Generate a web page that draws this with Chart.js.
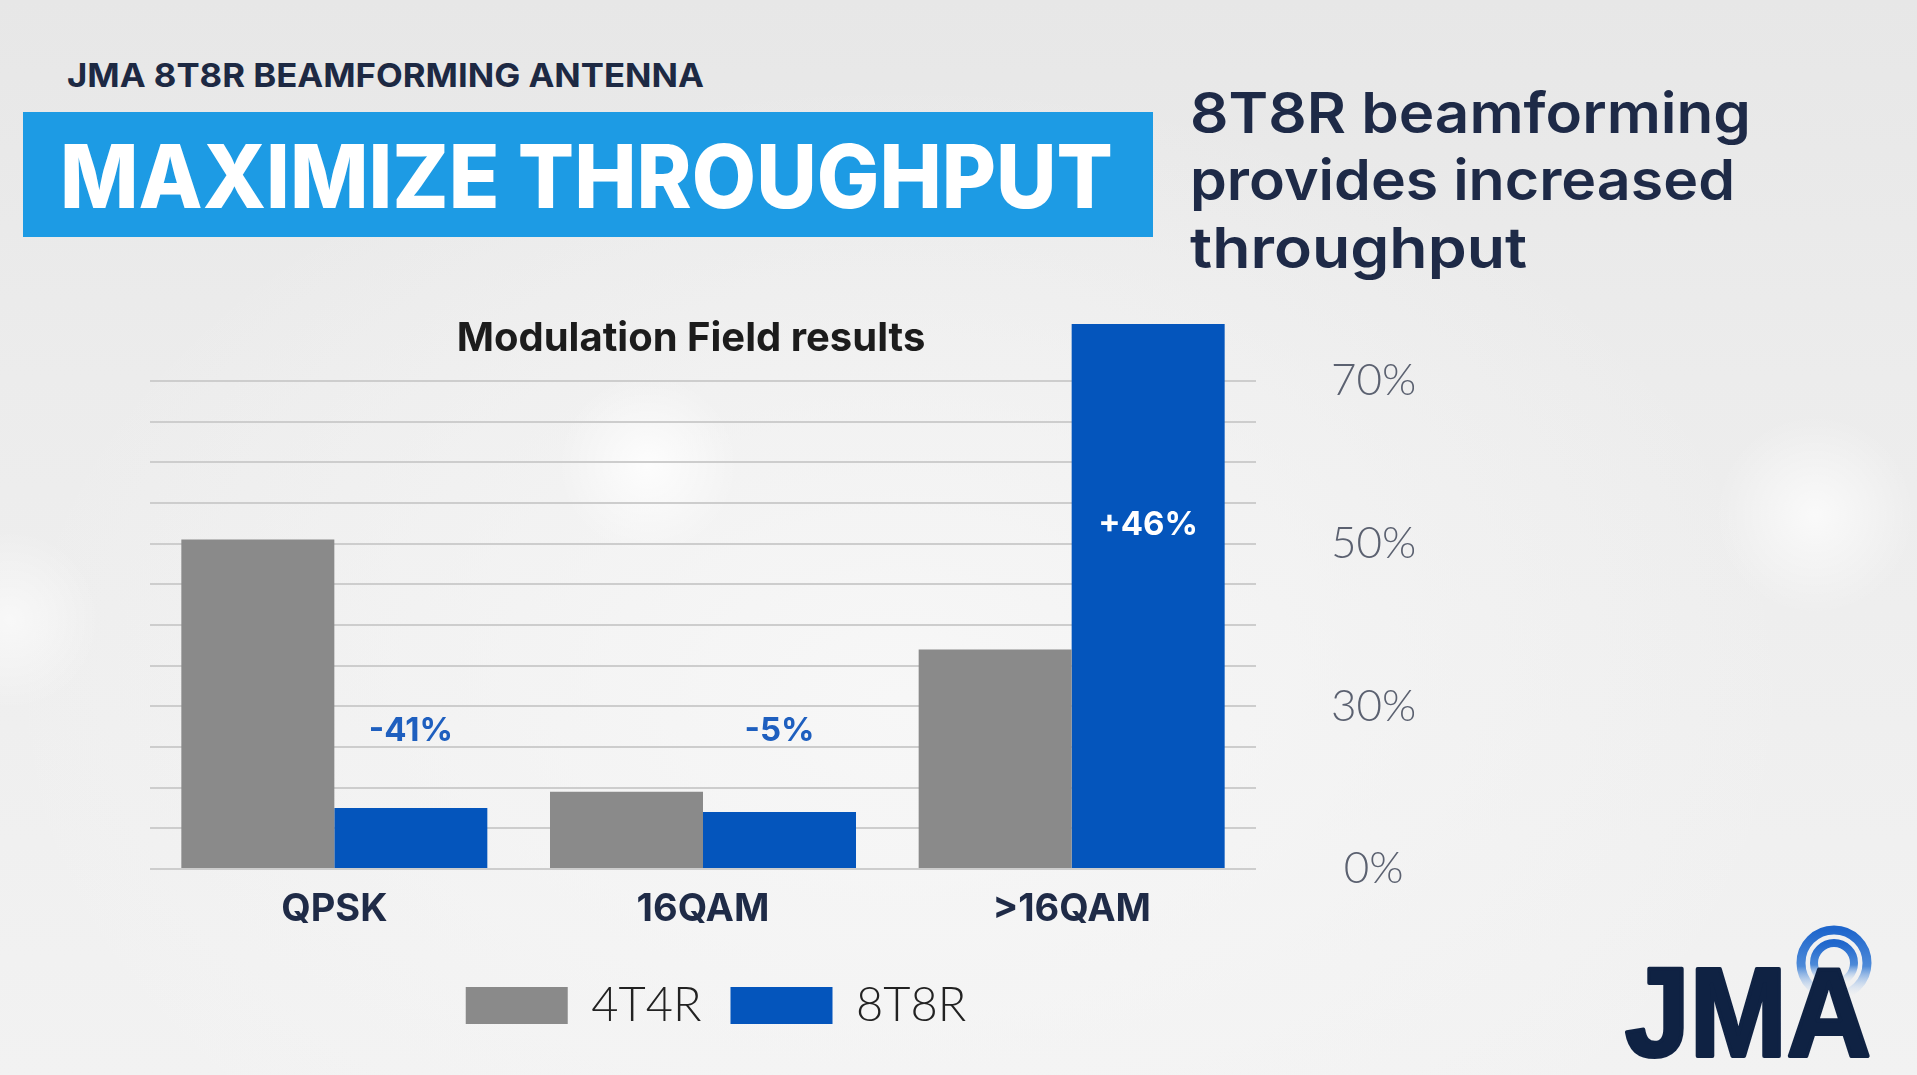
<!DOCTYPE html>
<html>
<head>
<meta charset="utf-8">
<title>Modulation Field results</title>
<script src="https://cdn.jsdelivr.net/npm/chart.js@4.4.0/dist/chart.umd.min.js"></script>
<style>
    html, body { margin: 0; padding: 0; }
    body {
        width: 1917px; height: 1075px; overflow: hidden; position: relative;
        font-family: Inter, "Open Sans", sans-serif;
        background:
            radial-gradient(circle at 648px 465px, rgba(255,255,255,0.85) 0, rgba(255,255,255,0) 90px),
            radial-gradient(circle at 1815px 515px, rgba(255,255,255,0.7) 0, rgba(255,255,255,0) 100px),
            radial-gradient(circle at 10px 620px, rgba(255,255,255,0.6) 0, rgba(255,255,255,0) 90px),
            radial-gradient(ellipse at 900px 700px, #f7f7f7 0, rgba(247,247,247,0) 900px),
            linear-gradient(180deg, #e7e7e7 0%, #ececec 35%, #f2f2f2 100%);
    }
    #header { position: absolute; left: 0; top: 0; }
    #chartBox { position: absolute; left: 0; top: 290px; width: 1440px; height: 749px; }
    #logo { position: absolute; left: 1600px; top: 900px; }
</style>
</head>
<body>

<svg id="header" width="1917" height="300">
    <text x="67" y="87" font-family="Inter" font-weight="700" font-size="33" fill="#1d2943"
          textLength="637" lengthAdjust="spacingAndGlyphs">JMA 8T8R BEAMFORMING ANTENNA</text>
    <rect x="23" y="112" width="1130" height="125" fill="#1d9be4"></rect>
    <text x="60" y="208" font-family="Inter" font-weight="800" font-size="88" fill="#ffffff"
          textLength="1053" lengthAdjust="spacingAndGlyphs">MAXIMIZE THROUGHPUT</text>
    <text x="1190" y="133" font-family="Inter" font-weight="600" font-size="56" fill="#1e2a47"
          textLength="561" lengthAdjust="spacingAndGlyphs">8T8R beamforming</text>
    <text x="1190" y="200" font-family="Inter" font-weight="600" font-size="56" fill="#1e2a47"
          textLength="545" lengthAdjust="spacingAndGlyphs">provides increased</text>
    <text x="1190" y="268" font-family="Inter" font-weight="600" font-size="56" fill="#1e2a47"
          textLength="337" lengthAdjust="spacingAndGlyphs">throughput</text>
</svg>

<div id="chartBox"><canvas id="myChart"></canvas></div>

<svg id="logo" width="300" height="175">
    <defs>
        <linearGradient id="arcFade" x1="0" y1="0" x2="0" y2="1">
            <stop offset="0" stop-color="#1f66cc"></stop>
            <stop offset="0.55" stop-color="#4d8ad8"></stop>
            <stop offset="1" stop-color="#cfe0f4" stop-opacity="0"></stop>
        </linearGradient>
    </defs>
    <circle cx="234" cy="63" r="33" fill="none" stroke="url(#arcFade)" stroke-width="9"></circle>
    <circle cx="234" cy="63" r="20" fill="none" stroke="url(#arcFade)" stroke-width="8"></circle>
    <text x="25" y="156" font-family="Liberation Sans" font-weight="700" font-size="126" fill="#0f2243"
          stroke="#0f2243" stroke-width="4" stroke-linejoin="round"
          textLength="246" lengthAdjust="spacingAndGlyphs">JMA</text>
</svg>

<script>
// chart data (bar heights in gridline units)
var categories = ["QPSK", "16QAM", ">16QAM"];
var values4T4R = [8.1, 1.9, 5.4];
var values8T8R = [1.5, 1.4, 13.4];

// right axis: label only every 4th gridline
var gridLevels = [0, 1, 2, 3, 4, 5, 6, 7, 8, 9, 10, 11, 12];
var tickValues = [0, 4, 8, 12];
var tickLabels = ["0%", "30%", "50%", "70%"];

// change labels over the 8T8R bars
var changeLabels = ["-41%", "-5%", "+46%"];
var changeLevels = [3.4, 3.4, 8.45];

var changeLabelPlugin = {
    id: "changeLabels",
    afterDatasetsDraw: function (chart) {
        var ctx = chart.ctx;
        var meta = chart.getDatasetMeta(1);
        var yScale = chart.scales.y;
        ctx.save();
        ctx.font = "700 33px Inter";
        ctx.textAlign = "center";
        ctx.textBaseline = "middle";
        meta.data.forEach(function (bar, i) {
            var y = yScale.getPixelForValue(changeLevels[i]);
            // blue above the bar, white inside it
            ctx.fillStyle = y < bar.y ? "#1e5fbf" : "#ffffff";
            ctx.fillText(changeLabels[i], bar.x, y);
        });
        ctx.restore();
    }
};

// the slide has the legend a bit right of centre and the title a bit left
var nudgePlugin = {
    id: "nudge",
    afterLayout: function (chart) {
        if (chart.legend) {
            chart.legend.left += 13;
            chart.legend.right += 13;
        }
        if (chart.titleBlock) {
            chart.titleBlock.left -= 12;
            chart.titleBlock.right -= 12;
        }
    }
};

var ctx = document.getElementById("myChart").getContext("2d");
var myChart = new Chart(ctx, {
    type: "bar",
    data: {
        labels: categories,
        datasets: [
            {
                label: "4T4R",
                data: values4T4R,
                backgroundColor: "#8a8a8a",
                borderWidth: 0,
            },
            {
                label: "8T8R",
                data: values8T8R,
                backgroundColor: "#0455bc",
                borderWidth: 0,
            },
        ],
    },
    options: {
        responsive: true,
        maintainAspectRatio: false,
        animation: false,
        layout: {
            padding: { left: 150, right: 26, top: 0, bottom: 0 },
        },
        datasets: {
            bar: { categoryPercentage: 0.83, barPercentage: 1.0 },
        },
        scales: {
            x: {
                grid: { display: false, drawTicks: false },
                border: { display: false },
                ticks: {
                    padding: 18,
                    color: "#1f2b47",
                    font: { family: "Inter", weight: "700", size: 38 },
                },
                afterFit: function (scale) {
                    scale.height = 84;
                },
            },
            y: {
                position: "right",
                min: 0,
                max: 13.5,
                border: { display: false },
                grid: {
                    color: "#cdcdcd",
                    lineWidth: 2,
                    drawTicks: true,
                    tickLength: 75,
                    tickColor: "rgba(0,0,0,0)",
                },
                afterBuildTicks: function (scale) {
                    scale.ticks = gridLevels.map(function (v) {
                        return { value: v };
                    });
                },
                afterFit: function (scale) {
                    scale.width = 158;
                },
                ticks: {
                    padding: 0,
                    autoSkip: false,
                    crossAlign: "center",
                    color: "#5b6170",
                    font: { family: "Lato", weight: "300", size: 44 },
                    callback: function (value) {
                        var i = tickValues.indexOf(value);
                        return i >= 0 ? tickLabels[i] : "";
                    },
                },
            },
        },
        plugins: {
            title: {
                display: true,
                fullSize: false,
                text: "Modulation Field results",
                color: "#1c1c1c",
                font: { family: "Inter", weight: "700", size: 40 },
                padding: { top: 25, bottom: -43 },
            },
            legend: {
                display: true,
                position: "bottom",
                fullSize: false,
                labels: {
                    boxWidth: 102,
                    boxHeight: 37,
                    padding: 29,
                    color: "#222222",
                    font: { family: "Lato", weight: "300", size: 47 },
                },
            },
            tooltip: { enabled: false },
        },
    },
    plugins: [changeLabelPlugin, nudgePlugin],
});
</script>
</body>
</html>
